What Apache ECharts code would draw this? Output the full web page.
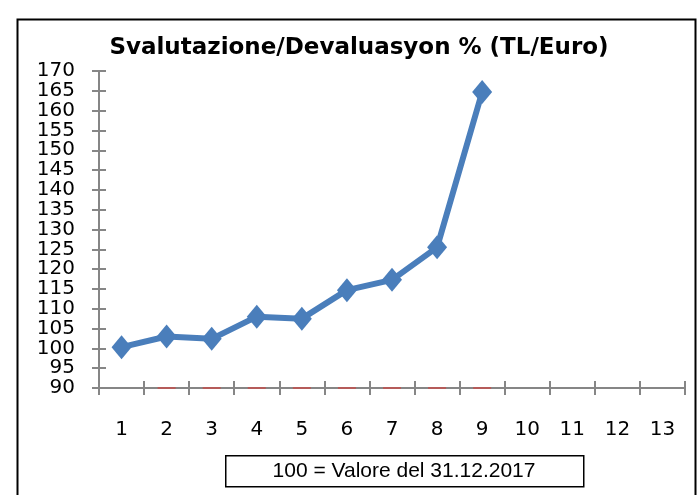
<!DOCTYPE html>
<html>
<head>
<meta charset="utf-8">
<script src="https://cdn.jsdelivr.net/npm/echarts@6/dist/echarts.min.js"></script>
<style>
  html, body { margin: 0; padding: 0; background: #fff; }
  #chart { width: 697px; height: 495px; }
</style>
</head>
<body>
<div id="chart"></div>
<script>
// dati (100 = valore del 31.12.2017)
const categories = ['1', '2', '3', '4', '5', '6', '7', '8', '9', '10', '11', '12', '13'];
const svalutazione = [100.3, 103, 102.4, 108, 107.5, 114.7, 117.3, 125.5, 164.7];
// piccoli trattini rossi sull'asse x (seconda serie a quota base)
const serieRossa = [null, 90, 90, 90, 90, 90, 90, 90, 90];
const yMin = 90, yMax = 170, yStep = 5;

const chart = echarts.init(document.getElementById('chart'));
const font = 'DejaVu Sans';
const axisGray = '#868686';

chart.setOption({
    animation: false,
    backgroundColor: '#fff',
    title: {
        text: 'Svalutazione/Devaluasyon % (TL/Euro)',
        left: 354, top: 32, textAlign: 'center',
        textStyle: { fontFamily: 'DejaVu Sans', fontWeight: 'bold', fontSize: 23, color: '#000' }
    },
    grid: { left: 99, right: 12, top: 71, bottom: 107 },
    xAxis: [{
        type: 'category', data: categories, boundaryGap: true,
        axisLine: { lineStyle: { color: axisGray, width: 2 } },
        axisTick: { show: true, length: 7, alignWithLabel: false, lineStyle: { color: axisGray, width: 2 } },
        axisLabel: { margin: 32, fontFamily: font, fontSize: 20, color: '#000' },
        splitLine: { show: false }
    }, {
        type: 'category', data: categories, boundaryGap: true, position: 'bottom',
        axisLine: { show: false },
        axisTick: { show: true, inside: true, length: 7, lineStyle: { color: axisGray, width: 2 } },
        axisLabel: { show: false }, splitLine: { show: false }
    }],
    yAxis: [{
        type: 'value', min: yMin, max: yMax, interval: yStep,
        axisLine: { show: true, lineStyle: { color: axisGray, width: 2 } },
        axisTick: { show: true, length: 7, lineStyle: { color: axisGray, width: 2 } },
        axisLabel: { margin: 24, fontFamily: font, fontSize: 20, color: '#000', lineHeight: 18 },
        splitLine: { show: false }
    }, {
        type: 'value', min: yMin, max: yMax, interval: yStep, position: 'left',
        axisLine: { show: false },
        axisTick: { show: true, inside: true, length: 7, lineStyle: { color: axisGray, width: 2 } },
        axisLabel: { show: false }, splitLine: { show: false }
    }],
    series: [{
        type: 'scatter', data: serieRossa, symbol: 'rect', symbolSize: [18, 2],
        itemStyle: { color: '#c0504d' }, z: 1
    }, {
        type: 'line', data: svalutazione,
        symbol: 'diamond', symbolSize: [20, 24],
        lineStyle: { color: '#4a7ebb', width: 6 },
        itemStyle: { color: '#4a7ebb' }, z: 5
    }],
    graphic: [{
        type: 'rect', left: 15, top: 17,
        shape: { width: 678, height: 490 },
        style: { fill: null, stroke: '#000', lineWidth: 2 }, z: 0
    }, {
        type: 'rect', left: 225, top: 455,
        shape: { width: 358, height: 31 },
        style: { fill: '#fff', stroke: '#000', lineWidth: 1.5 }
    }, {
        type: 'text', x: 404, y: 471,
        style: {
            text: '100 = Valore del 31.12.2017', font: '21px "Liberation Sans"', fill: '#000',
            textAlign: 'center', textVerticalAlign: 'middle'
        }
    }]
});
</script>
</body>
</html>
